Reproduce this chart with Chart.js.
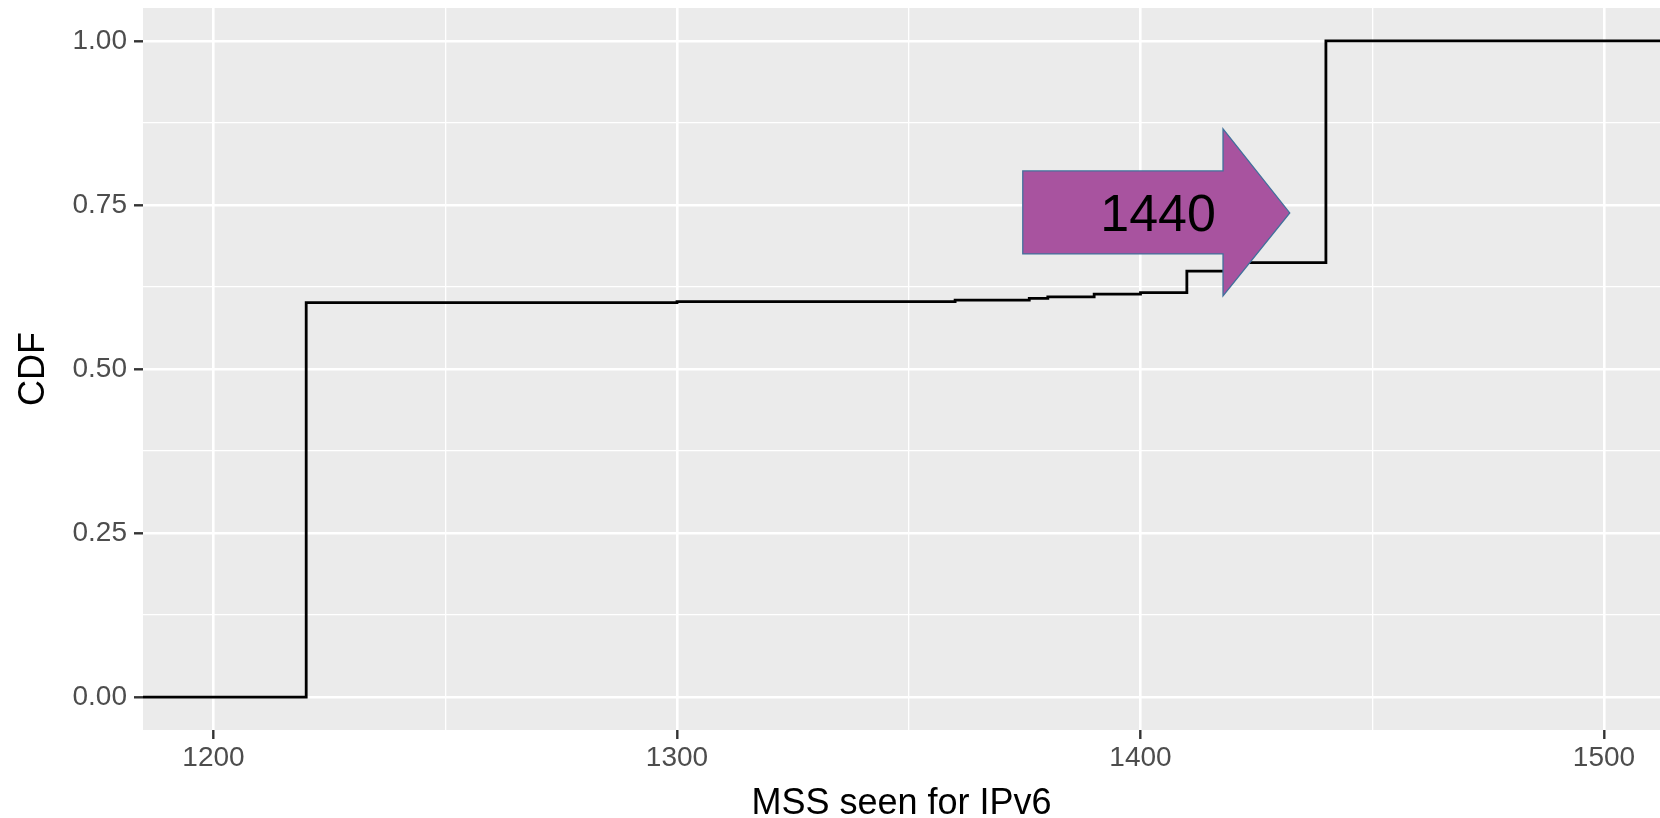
<!DOCTYPE html>
<html>
<head>
<meta charset="utf-8">
<script src="https://cdn.jsdelivr.net/npm/chart.js@4/dist/chart.umd.min.js"></script>
<style>
  html, body { margin: 0; padding: 0; background: #fff; }
  #wrap { width: 1660px; height: 818px; position: relative; }
</style>
</head>
<body>
<div id="wrap"><canvas id="myChart"></canvas></div>
<script>
// ECDF of MSS values seen for IPv6 (step points)
const mssValues = [1184.79, 1220, 1300, 1360, 1376, 1380, 1390, 1400, 1410, 1420, 1440, 1512.08];
const cdfValues = [0, 0.601, 0.6025, 0.605, 0.6075, 0.610, 0.614, 0.6165, 0.649, 0.662, 1.0, 1.0];

// ticks: majors get labels, the rest are minor grid lines
const xTicks = [1200, 1250, 1300, 1350, 1400, 1450, 1500];
const xTickLabels = ['1200', '1300', '1400', '1500'];
const yTicks = [0, 0.125, 0.25, 0.375, 0.5, 0.625, 0.75, 0.875, 1];
const yTickLabels = ['0.00', '0.25', '0.50', '0.75', '1.00'];

const arrowLabel = '1440';

const FONT = "'Liberation Sans', Arial, Helvetica, sans-serif";

function isMajorX(v) { return xTickLabels.indexOf(String(v)) !== -1; }
function isMajorY(v) { return yTickLabels.indexOf(v.toFixed(2)) !== -1; }

const panelBg = {
  id: 'panelBg',
  beforeDraw(chart) {
    const a = chart.chartArea;
    const ctx = chart.ctx;
    ctx.save();
    ctx.fillStyle = '#EBEBEB';
    ctx.fillRect(a.left, a.top, a.right - a.left, a.bottom - a.top);
    ctx.restore();
  }
};

// block arrow with the "1440" callout, placed in data units
const arrowNote = {
  id: 'arrowNote',
  afterDatasetsDraw(chart) {
    const x = chart.scales.x, y = chart.scales.y;
    const px = v => x.getPixelForValue(v);
    const py = v => y.getPixelForValue(v);
    const pts = [
      [1374.6, 0.8018], [1417.8, 0.8018], [1417.8, 0.8659], [1432.2, 0.7378],
      [1417.8, 0.6113], [1417.8, 0.6753], [1374.6, 0.6753]
    ];
    const ctx = chart.ctx;
    ctx.save();
    ctx.beginPath();
    pts.forEach((p, i) => {
      if (i === 0) ctx.moveTo(px(p[0]), py(p[1]));
      else ctx.lineTo(px(p[0]), py(p[1]));
    });
    ctx.closePath();
    ctx.fillStyle = '#A8539F';
    ctx.fill();
    ctx.lineWidth = 1.3;
    ctx.strokeStyle = '#41719C';
    ctx.stroke();
    ctx.fillStyle = '#000';
    ctx.font = '52px ' + FONT;
    ctx.textAlign = 'center';
    ctx.textBaseline = 'middle';
    ctx.fillText(arrowLabel, px(1403.8), py(0.738) + 4);
    ctx.restore();
  }
};

const data = {
  datasets: [
    {
      label: 'CDF',
      data: mssValues.map((v, i) => ({ x: v, y: cdfValues[i] })),
      stepped: 'before',
      borderColor: '#000000',
      borderWidth: 2.8,
      pointRadius: 0,
      fill: false,
      clip: 0
    }
  ]
};

const config = {
  type: 'line',
  data: data,
  options: {
    animation: false,
    responsive: true,
    maintainAspectRatio: false,
    layout: { padding: { top: 8, right: 0, left: 0, bottom: 0 } },
    plugins: {
      legend: { display: false },
      tooltip: { enabled: false }
    },
    scales: {
      x: {
        type: 'linear',
        min: 1184.79,
        max: 1512.08,
        afterBuildTicks: s => { s.ticks = xTicks.map(v => ({ value: v })); },
        afterFit: s => { s.height = 88; s.paddingLeft = 0; s.paddingRight = 0; },
        border: { display: false },
        grid: {
          color: '#FFFFFF',
          lineWidth: c => (c.tick && isMajorX(c.tick.value) ? 2.6 : 1.3),
          tickColor: c => (c.tick && isMajorX(c.tick.value) ? '#333333' : 'rgba(0,0,0,0)'),
          tickLength: 9,
          tickWidth: 2.4
        },
        ticks: {
          autoSkip: false,
          maxRotation: 0,
          padding: 2,
          color: '#4D4D4D',
          font: { family: FONT, size: 28, lineHeight: 1.2 },
          callback: v => (isMajorX(v) ? String(v) : '')
        },
        title: {
          display: true,
          text: 'MSS seen for IPv6',
          color: '#000000',
          padding: { top: 1, bottom: 0 },
          font: { family: FONT, size: 36, lineHeight: 0.8 }
        }
      },
      y: {
        type: 'linear',
        min: -0.05,
        max: 1.05,
        afterBuildTicks: s => { s.ticks = yTicks.map(v => ({ value: v })); },
        afterFit: s => { s.width = 143; s.paddingTop = 0; s.paddingBottom = 0; },
        border: { display: false },
        grid: {
          color: '#FFFFFF',
          lineWidth: c => (c.tick && isMajorY(c.tick.value) ? 2.6 : 1.3),
          tickColor: c => (c.tick && isMajorY(c.tick.value) ? '#333333' : 'rgba(0,0,0,0)'),
          tickLength: 9,
          tickWidth: 2.4
        },
        ticks: {
          autoSkip: false,
          padding: 7,
          color: '#4D4D4D',
          font: { family: FONT, size: 28 },
          callback: v => (isMajorY(v) ? v.toFixed(2) : '')
        },
        title: {
          display: true,
          text: 'CDF',
          color: '#000000',
          padding: { top: 16, bottom: 0 },
          font: { family: FONT, size: 36, lineHeight: 1 }
        }
      }
    }
  },
  plugins: [panelBg, arrowNote]
};

const myChart = new Chart(document.getElementById('myChart'), config);
</script>
</body>
</html>
